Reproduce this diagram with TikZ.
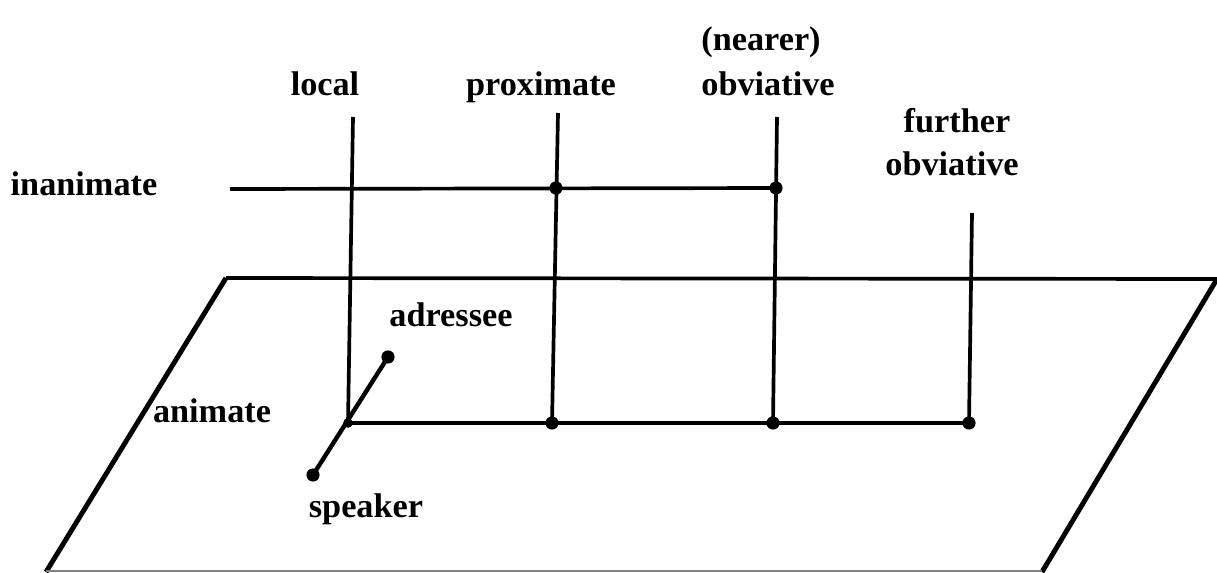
\documentclass[tikz,border=0pt]{standalone}
\usepackage{fontspec}
\setmainfont{Liberation Serif}
\begin{document}
\begin{tikzpicture}[x=0.02cm,y=-0.02cm,
    axis/.style={line width=2.1pt},
    edge/.style={line width=2.8pt},
    dot/.style={circle,fill=black,inner sep=0pt,minimum size=7.5pt},
    lbl/.style={font=\fontsize{19.5}{22}\selectfont\bfseries,anchor=base,inner sep=0pt}]
    \useasboundingbox (0,0) rectangle (1217,572);
    % the plane of animates
    \coordinate (pa) at (46,572); \coordinate (pb) at (226,278);
    \coordinate (pc) at (1217,279); \coordinate (pd) at (1042,572);
    \draw[edge] (pa)--(pb); \draw[axis] (pb)--(pc); \draw[edge] (pc)--(pd);
    \draw[gray,line width=0.8pt] ([yshift=0.5pt]pa)--([yshift=0.5pt]pd);

    \coordinate (loc-t) at (353,117); \coordinate (loc-b) at (348,423);
    \coordinate (prox-t) at (558,113); \coordinate (prox-b) at (552,423);
    \coordinate (near-t) at (777,117); \coordinate (near-b) at (773,423);
    \coordinate (fur-t) at (972,213); \coordinate (fur-b) at (969,423);
    \coordinate (inan) at (230,189);
    \coordinate (prox-i) at (556,188); \coordinate (near-i) at (776,188);
    \coordinate (spk) at (313,475); \coordinate (adr) at (388,357);

    \foreach \c in {loc,prox,near,fur} \draw[axis] (\c-t)--(\c-b);
    \draw[axis] (inan)--(near-i);   % inanimate
    \draw[axis] (loc-b)--(fur-b);   % animate
    \draw[axis,line width=2.5pt] (spk)--(adr);
    \foreach \p in {prox-i,near-i,prox-b,near-b,fur-b,spk,adr} \node[dot] at (\p) {};
    \node[dot,minimum size=5.5pt] at (loc-b) {};

    \node[lbl] (l-loc) at (325,95) {local};
    \node[lbl] (l-prox) at (541,95) {proximate};
    \node[lbl] (l-near) at (761,50) {(nearer)};
    \node[lbl] (l-nobv) at (768,95) {obviative};
    \node[lbl] (l-fur) at (957,132) {further};
    \node[lbl] (l-fobv) at (952,175) {obviative};
    \node[lbl] (l-inan) at (84,195) {inanimate};
    \node[lbl] (l-anim) at (212,422) {animate};
    \node[lbl] (l-adr) at (451,326) {adressee};
    \node[lbl] (l-spk) at (366,517) {speaker};
\end{tikzpicture}
\end{document}
